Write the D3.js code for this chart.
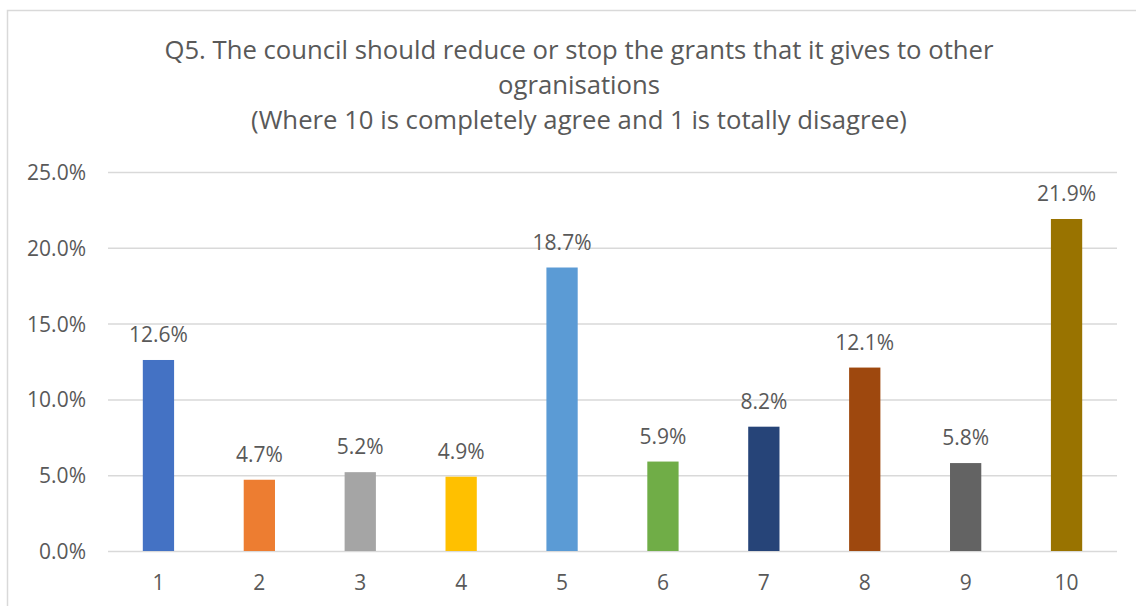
<!DOCTYPE html>
<html>
<head>
<meta charset="utf-8">
<script src="https://cdn.jsdelivr.net/npm/d3@7"></script>
<style>
  html, body { margin: 0; padding: 0; background: #fff; }
  svg { display: block; }
  text { font-family: "Open Sans", "Noto Sans", sans-serif; fill: #595959; }
</style>
</head>
<body>
<svg id="chart" width="1136" height="606"></svg>
<script>
// Survey responses: share of respondents choosing each score
const categories = ["1", "2", "3", "4", "5", "6", "7", "8", "9", "10"];
const values = [12.6, 4.7, 5.2, 4.9, 18.7, 5.9, 8.2, 12.1, 5.8, 21.9];
const barColors = ["#4472C4", "#ED7D31", "#A5A5A5", "#FFC000", "#5B9BD5",
                   "#70AD47", "#264478", "#9E480E", "#636363", "#997300"];
const yTicks = [0, 5, 10, 15, 20, 25];
const titleLines = [
  "Q5. The council should reduce or stop the grants that it gives to other",
  "ogranisations",
  "(Where 10 is completely agree and 1 is totally disagree)"
];

const svg = d3.select("#chart");

// Chart frame
svg.append("rect")
  .attr("x", 7.5).attr("y", 10.5)
  .attr("width", 1140).attr("height", 610)
  .attr("fill", "none").attr("stroke", "#d9d9d9").attr("stroke-width", 1.5);

const plot = { left: 108, right: 1117, top: 172, bottom: 551 };

const x = d3.scaleBand()
  .domain(categories)
  .range([plot.left, plot.right])
  .paddingInner(0.69).paddingOuter(0.345);

const y = d3.scaleLinear()
  .domain([0, 25])
  .range([plot.bottom, plot.top]);

// Title
svg.append("g").selectAll("text")
  .data(titleLines)
  .join("text")
  .attr("x", 579)
  .attr("y", (d, i) => 59 + i * 35)
  .attr("text-anchor", "middle")
  .style("font-size", "25.7px")
  .text(d => d);

// Horizontal gridlines + y labels
const yAxis = d3.axisLeft(y)
  .tickValues(yTicks)
  .tickSize(-(plot.right - plot.left))
  .tickPadding(22)
  .tickFormat(d => d.toFixed(1) + "%");

const gy = svg.append("g")
  .attr("transform", `translate(${plot.left},0)`)
  .call(yAxis);
gy.select(".domain").remove();
gy.selectAll(".tick line").attr("stroke", "#d9d9d9").attr("stroke-width", 1.5);
gy.selectAll(".tick text")
  .style("font-size", "21px")
  .attr("fill", "#595959")
  .attr("dy", "0.36em");

// Bars
svg.append("g").selectAll("rect")
  .data(values)
  .join("rect")
  .attr("x", (d, i) => x(categories[i]))
  .attr("y", d => y(d))
  .attr("width", x.bandwidth())
  .attr("height", d => y(0) - y(d))
  .attr("fill", (d, i) => barColors[i]);

// Value labels
svg.append("g").selectAll("text")
  .data(values)
  .join("text")
  .attr("x", (d, i) => x(categories[i]) + x.bandwidth() / 2)
  .attr("y", d => y(d) - 18)
  .attr("text-anchor", "middle")
  .style("font-size", "21px")
  .text(d => d.toFixed(1) + "%");

// Category axis
const xAxis = d3.axisBottom(x).tickSize(0).tickPadding(24);
const gx = svg.append("g")
  .attr("transform", `translate(0,${plot.bottom})`)
  .call(xAxis);
gx.select(".domain").remove();
gx.selectAll(".tick text")
  .style("font-size", "21px")
  .attr("fill", "#595959");
</script>
</body>
</html>
